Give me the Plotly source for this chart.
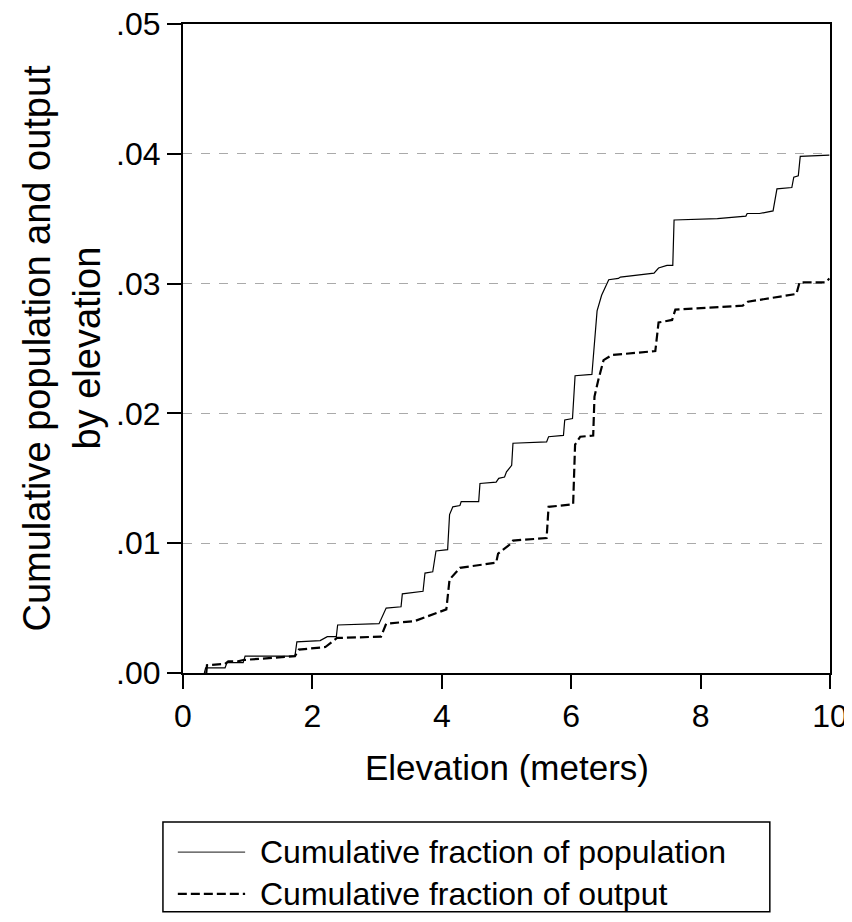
import plotly.graph_objects as go

# values
pop_x = [0.33, 0.35, 0.65, 0.68, 0.93, 0.96, 1.73, 1.76, 2.12, 2.23, 2.37, 2.39,
         3.03, 3.14, 3.37, 3.39, 3.71, 3.74, 3.86, 3.91, 4.09, 4.12, 4.17, 4.28,
         4.30, 4.57, 4.59, 4.84, 4.88, 4.97, 5.00, 5.08, 5.10, 5.62, 5.65, 5.88,
         5.90, 6.02, 6.06, 6.32, 6.40, 6.47, 6.58, 6.73, 6.76, 7.15, 7.28, 7.35,
         7.48, 7.57, 7.59, 8.26, 8.70, 8.72, 8.91, 9.12, 9.18, 9.41, 9.44, 9.51,
         9.54, 9.99]
pop_y = [0.0000, 0.0004, 0.0004, 0.0008, 0.0008, 0.0013, 0.0013, 0.0024, 0.0025,
         0.0028, 0.0028, 0.0037, 0.0038, 0.0050, 0.0051, 0.0061, 0.0063, 0.0077,
         0.0078, 0.0094, 0.0095, 0.0122, 0.0128, 0.0129, 0.0132, 0.0132, 0.0146,
         0.0147, 0.0150, 0.0151, 0.0155, 0.0160, 0.0177, 0.0178, 0.0182, 0.0183,
         0.0195, 0.0196, 0.0229, 0.0230, 0.0279, 0.0291, 0.0303, 0.0304, 0.0305,
         0.0307, 0.0308, 0.0312, 0.0314, 0.0314, 0.0349, 0.0350, 0.0352, 0.0354,
         0.0354, 0.0356, 0.0373, 0.0374, 0.0382, 0.0383, 0.0398, 0.0399]

out_x = [0.36, 0.37, 0.65, 0.70, 0.85, 0.93, 1.73, 1.79, 2.20, 2.28, 2.38, 3.06,
         3.14, 3.58, 3.84, 4.07, 4.12, 4.28, 4.56, 4.84, 4.87, 5.05, 5.10, 5.62,
         5.65, 6.03, 6.06, 6.14, 6.34, 6.36, 6.42, 6.50, 6.63, 7.30, 7.35, 7.56,
         7.61, 8.65, 8.73, 9.48, 9.53, 9.94, 9.99]
out_y = [0.0000, 0.0006, 0.0007, 0.0009, 0.0009, 0.0010, 0.0013, 0.0018, 0.0020,
         0.0023, 0.0027, 0.0028, 0.0038, 0.0040, 0.0045, 0.0049, 0.0072, 0.0081,
         0.0083, 0.0085, 0.0092, 0.0099, 0.0102, 0.0104, 0.0128, 0.0130, 0.0176,
         0.0182, 0.0183, 0.0213, 0.0226, 0.0241, 0.0245, 0.0248, 0.0270, 0.0272,
         0.0280, 0.0283, 0.0286, 0.0292, 0.0301, 0.0301, 0.0304]

y_ticks = [0.0, 0.01, 0.02, 0.03, 0.04, 0.05]
y_ticktext = ['.00', '.01', '.02', '.03', '.04', '.05']
x_ticks = [0, 2, 4, 6, 8, 10]

names = ['Cumulative fraction of population', 'Cumulative fraction of output']
y_title = ['Cumulative population and output', 'by elevation']
x_title = 'Elevation (meters)'

FAMILY = 'Liberation Sans, Arial, sans-serif'
TICK_FONT = dict(family=FAMILY, size=32, color='black')
LEG_FONT = dict(family=FAMILY, size=32, color='black')
XT_FONT = dict(family=FAMILY, size=35, color='black')
YT_FONT = dict(family=FAMILY, size=38, color='black')
DASH = '9px,4px'

trace_pop = go.Scatter(x=pop_x, y=pop_y, mode='lines', name=names[0],
                       line=dict(color='black', width=1.2))
trace_out = go.Scatter(x=out_x, y=out_y, mode='lines', name=names[1],
                       line=dict(color='black', width=2.2, dash=DASH))

fig = go.Figure(data=[trace_pop, trace_out])

# hand-made legend box below the plot (paper coords); both entries in one text block
shapes = [
    dict(type='rect', xref='paper', yref='paper', x0=-0.031, x1=0.907, y0=-0.368, y1=-0.2296,
         line=dict(color='black', width=1.5)),
    dict(type='line', xref='paper', yref='paper', x0=-0.008, x1=0.096, y0=-0.2761, y1=-0.2761,
         line=dict(color='#444', width=1.2)),
    dict(type='line', xref='paper', yref='paper', x0=-0.008, x1=0.096, y0=-0.3402, y1=-0.3402,
         line=dict(color='black', width=2.2, dash=DASH)),
]
annotations = [
    dict(text='<br>'.join(names), xref='paper', yref='paper', x=0.116, y=-0.3082,
         xanchor='left', yanchor='middle', align='left', showarrow=False, font=LEG_FONT),
    dict(text=x_title, xref='paper', yref='paper', x=0.5, y=-0.145,
         xanchor='center', yanchor='middle', showarrow=False, font=XT_FONT),
    dict(text=y_title[0], xref='paper', yref='paper', x=-0.2272, y=0.5,
         xanchor='center', yanchor='middle', textangle=-90, showarrow=False, font=YT_FONT),
    dict(text=y_title[1], xref='paper', yref='paper', x=-0.1499, y=0.5,
         xanchor='center', yanchor='middle', textangle=-90, showarrow=False, font=YT_FONT),
]

# page body has an 8px margin, so the figure is a bit smaller than the window
fig.update_layout(
    width=844, height=906,
    margin=dict(l=175, r=22, t=16, b=241),
    plot_bgcolor='white', paper_bgcolor='white',
    showlegend=False,
    font=TICK_FONT,
    shapes=shapes,
    annotations=annotations,
    xaxis=dict(range=[0, 10], tickvals=x_ticks, ticks='outside', ticklen=14, tickwidth=2,
               tickcolor='black', showline=True, linecolor='black', linewidth=2, mirror=True,
               showgrid=False, zeroline=False, tickfont=TICK_FONT,
               automargin=False, ticklabeloverflow='allow'),
    yaxis=dict(range=[0, 0.05], tickvals=y_ticks, ticktext=y_ticktext, ticks='outside',
               ticklen=14, tickwidth=2, tickcolor='black', showline=True, linecolor='black',
               linewidth=2, mirror=True, showgrid=True, gridcolor='#aaaaaa', gridwidth=1,
               griddash='dash', zeroline=False, tickfont=TICK_FONT,
               automargin=False, ticklabeloverflow='allow'),
)

fig.write_html("out.html")
